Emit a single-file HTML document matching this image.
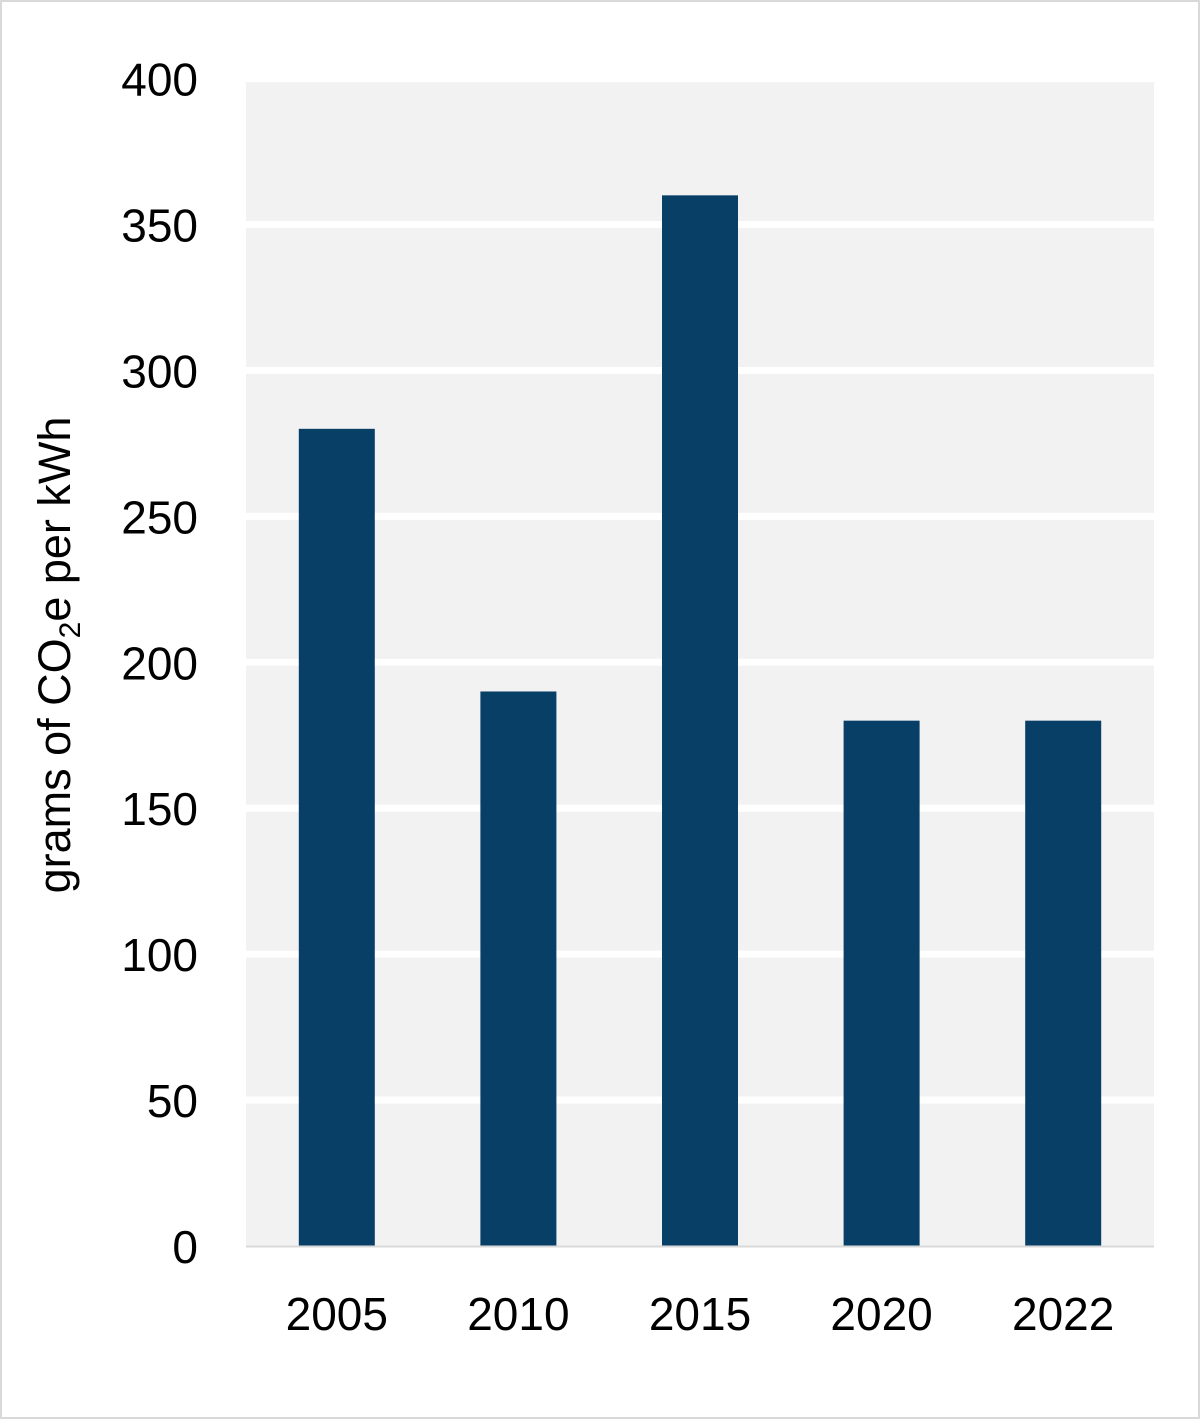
<!DOCTYPE html>
<html><head><meta charset="utf-8"><style>
html,body{margin:0;padding:0;background:#fff;}
svg{display:block;font-family:"Liberation Sans",Arial,sans-serif;}
</style></head><body>
<svg id="chart" width="1200" height="1419" viewBox="0 0 1200 1419">
<rect x="1" y="1" width="1198" height="1417" fill="#fff" stroke="#d9d9d9" stroke-width="2"/>
<rect x="246" y="82" width="908" height="1164" fill="#f2f2f2"/>
<g id="grid"></g>
<g id="bars"></g>
<line x1="246" y1="1246.5" x2="1154" y2="1246.5" stroke="#d9d9d9" stroke-width="2"/>
<g id="yticks"></g>
<g id="xticks"></g>
<text transform="translate(70,655) rotate(-90)" text-anchor="middle" font-size="45" fill="#000">grams of CO<tspan font-size="30" dy="10">2</tspan><tspan dy="-10">e per kWh</tspan></text>
</svg>
<script>
const categories = ["2005","2010","2015","2020","2022"];
const values = [280,190,360,180,180];
const yTicks = [0,50,100,150,200,250,300,350,400];
const NS="http://www.w3.org/2000/svg";
const plotL=246, plotR=1154, y0=1246, scale=2.9185;
const band=(plotR-plotL)/categories.length, barW=76;
function y(v){return y0-v*scale;}
function xc(i){return plotL+band*(i+0.5);}
const grid=document.getElementById('grid');
const yt=document.getElementById('yticks');
yTicks.forEach(t=>{
  if(t>0){
    const l=document.createElementNS(NS,'rect');
    l.setAttribute('x',plotL);l.setAttribute('y',y(t)-3.5);
    l.setAttribute('width',plotR-plotL);l.setAttribute('height',7);
    l.setAttribute('fill','#fff');
    
    
    grid.appendChild(l);
  }
  const tx=document.createElementNS(NS,'text');
  tx.setAttribute('x',198);tx.setAttribute('y',y(t)+17);
  tx.setAttribute('text-anchor','end');tx.setAttribute('font-size','46');
  tx.textContent=t;
  
  
  yt.appendChild(tx);
});
const bars=document.getElementById('bars');
const xt=document.getElementById('xticks');
categories.forEach((c,i)=>{
  const r=document.createElementNS(NS,'rect');
  r.setAttribute('x',xc(i)-barW/2);r.setAttribute('y',y(values[i]));
  r.setAttribute('width',barW);r.setAttribute('height',values[i]*scale);
  r.setAttribute('fill','#073f66');
  
  
  bars.appendChild(r);
  const tx=document.createElementNS(NS,'text');
  tx.setAttribute('x',xc(i));tx.setAttribute('y',1330);
  tx.setAttribute('text-anchor','middle');tx.setAttribute('font-size','46');
  tx.textContent=c;
  
  
  xt.appendChild(tx);
});
</script>
</body></html>
